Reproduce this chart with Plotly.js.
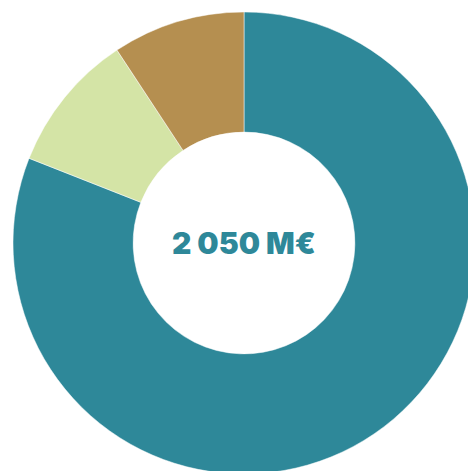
<!DOCTYPE html>
<html>
<head>
<meta charset="utf-8">
<script src="https://cdn.plot.ly/plotly-3.0.1.min.js"></script>
<style>
html,body{margin:0;padding:0;overflow:hidden;background:#fff;width:468px;height:471px;}
#chart{position:absolute;left:13px;top:12px;width:462px;height:462px;}
</style>
</head>
<body>
<div id="chart"></div>
<script>
const labels = ["Part C", "Part B", "Part A"];
const values = [1660, 200, 190];
const colors = ["#2e8899", "#d4e4a6", "#b58f50"];
const centerText = "2 050 M€";

Plotly.newPlot("chart", [{
  type: "pie",
  labels: labels,
  values: values,
  hole: 0.48,
  sort: false,
  direction: "clockwise",
  rotation: 0,
  textinfo: "none",
  hoverinfo: "none",
  marker: {colors: colors, line: {color: "#ffffff", width: 0.5}},
  domain: {x: [0, 1], y: [0, 1]}
}], {
  width: 462,
  height: 462,
  margin: {l: 0, r: 0, t: 0, b: 0},
  showlegend: false,
  paper_bgcolor: "rgba(0,0,0,0)",
  annotations: [{
    text: centerText,
    x: 0.5, y: 0.5, xref: "paper", yref: "paper",
    showarrow: false,
    font: {family: "Inter", size: 30, color: "#2e8899", weight: 900}
  }]
}, {displayModeBar: false, staticPlot: true});
</script>
</body>
</html>
